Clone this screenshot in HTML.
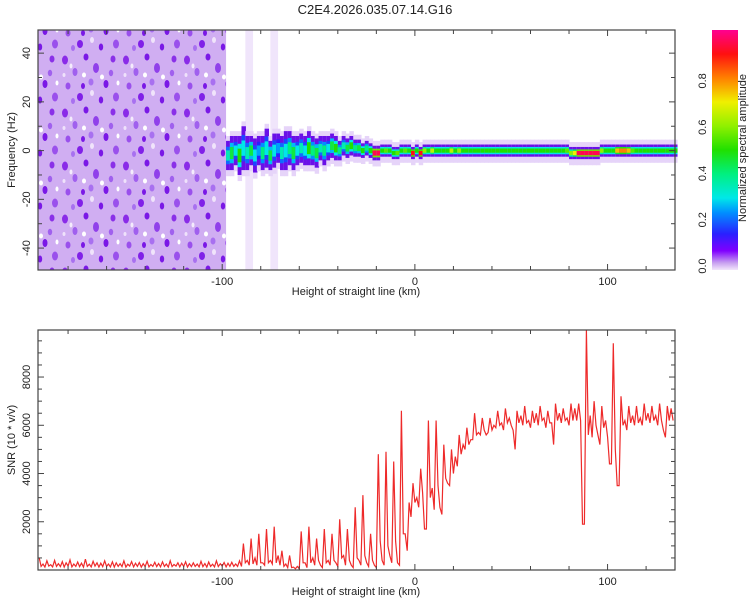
<!DOCTYPE html>
<html><head><meta charset="utf-8"><style>
body{margin:0;background:#fff;width:750px;height:600px;overflow:hidden}
svg{display:block;font-family:"Liberation Sans",sans-serif}
</style></head><body>
<svg id="c" width="750" height="600">
<defs>
<linearGradient id="cbg" x1="0" y1="1" x2="0" y2="0">
<stop offset="0" stop-color="#f2e6fb"/><stop offset="0.03" stop-color="#c8a0f0"/><stop offset="0.08" stop-color="#8000ff"/><stop offset="0.15" stop-color="#2a20ff"/><stop offset="0.24" stop-color="#0090ff"/><stop offset="0.3" stop-color="#00e8e8"/><stop offset="0.4" stop-color="#00f080"/><stop offset="0.5" stop-color="#20e000"/><stop offset="0.6" stop-color="#90f000"/><stop offset="0.7" stop-color="#f0f000"/><stop offset="0.8" stop-color="#ff8000"/><stop offset="0.9" stop-color="#ff1010"/><stop offset="1" stop-color="#ff0090"/>
</linearGradient>
<pattern id="spk" width="61" height="53" patternUnits="userSpaceOnUse">
<rect width="61" height="53" fill="#d0aef2"/>
<ellipse cx="4" cy="7" rx="3" ry="4.5" fill="#8a2be8"/><ellipse cx="14" cy="19" rx="2.5" ry="4" fill="#a060ee"/><ellipse cx="25" cy="4" rx="2.5" ry="3.5" fill="#7a18e6"/><ellipse cx="35" cy="15" rx="3" ry="5" fill="#9040ea"/><ellipse cx="45" cy="31" rx="2.5" ry="4" fill="#7a18e6"/><ellipse cx="7" cy="33" rx="2.5" ry="3.5" fill="#9a50ec"/><ellipse cx="19" cy="44" rx="3" ry="4" fill="#8020e8"/><ellipse cx="30" cy="29" rx="2.5" ry="3.5" fill="#a870f0"/><ellipse cx="52" cy="6" rx="2.5" ry="3.5" fill="#8a30e8"/><ellipse cx="55" cy="44" rx="3" ry="4.5" fill="#9a50ec"/><ellipse cx="40" cy="47" rx="2.2" ry="3.5" fill="#7a18e6"/><ellipse cx="50" cy="20" rx="2.2" ry="3.2" fill="#a060ee"/><ellipse cx="22" cy="33" rx="2" ry="3" fill="#7a18e6"/><ellipse cx="12" cy="48" rx="2" ry="3" fill="#a870f0"/>
<ellipse cx="23" cy="22" rx="2" ry="2.5" fill="#fff"/><ellipse cx="10" cy="13" rx="1.5" ry="2.5" fill="#f4ecfc"/><ellipse cx="41" cy="24" rx="2" ry="2.5" fill="#fff"/><ellipse cx="31" cy="40" rx="2" ry="3" fill="#f0e4fb"/><ellipse cx="57" cy="30" rx="1.5" ry="2.5" fill="#fff"/><ellipse cx="3" cy="22" rx="1.5" ry="2" fill="#efe2fb"/>
</pattern>
</defs>
</svg>
<script>
const NS='http://www.w3.org/2000/svg';
const svg=document.getElementById('c');
// ---- data ----
const snrStart=-195, snrStep=2;
const snrValues=[500,250,380,220,400,260,350,300,420,250,
330,280,450,240,360,300,280,380,250,340,
300,260,380,240,350,280,310,260,360,230,
320,270,340,250,380,230,300,280,340,260,
300,250,360,270,330,240,380,260,310,280,
320,250,380,1100,400,1300,500,1500,300,1700,
400,1800,600,800,250,600,120,150,1600,300,
1800,500,1300,200,1700,400,1500,300,2100,600,
1700,200,2600,400,3100,300,1500,200,4800,400,
4900,600,4500,300,6600,1500,2800,3600,3000,4200,
1700,6200,3400,6200,2600,5200,3600,5000,4700,5600,
5200,5900,5400,6500,5700,6300,5600,6300,6000,6600,
6100,6700,6300,5800,6600,6400,6800,6200,6600,6500,
6800,6300,6600,6100,6900,6500,6700,6300,6900,6700,
6900,1900,10000,6400,7000,5600,6800,6200,4400,9400,
3500,7200,6200,6800,6400,6800,6300,6900,6500,6800,
6400,6900,5800,6800,6700];
const snrMin=[150,120,160,130,150,140,120,160,130,150,
140,120,150,130,160,120,140,150,130,120,
150,140,120,160,130,150,120,140,130,150,
140,130,150,120,140,160,130,150,120,140,
150,130,140,120,150,130,140,160,130,150,
150,150,150,300,200,250,200,300,200,300,
250,300,200,150,100,100,50,50,300,100,
300,200,400,100,300,200,400,150,500,200,
400,100,500,200,600,150,400,100,1200,200,
1000,300,1200,200,1500,800,2200,2800,2600,3200,
1700,3000,2500,3500,2300,3800,3500,4000,4300,4800,
5000,5200,5400,5600,5600,5800,5700,5800,5900,6000,
5800,6100,6000,5000,6100,6000,6100,5900,6100,6000,
6200,5900,6100,5200,6200,6100,6200,6000,6200,6200,
6200,1900,5600,5500,6000,5200,5900,5500,4400,5000,
3500,6000,5800,6100,6000,6100,6000,6200,6100,6200,
6000,6200,5500,6200,6200];
const bandStart=-98, bandStep=2;
const bandAmp=[0.35,0.45,0.3,0.5,0.3,0.35,0.45,0.3,0.25,0.4,0.3,0.45,0.3,0.25,0.35,0.3,0.4,0.45,0.3,0.35,
0.3,0.5,0.4,0.45,0.35,0.4,0.3,0.45,0.5,0.4,0.35,0.45,0.5,0.4,0.45,0.5,0.4,0.5,0.95,0.95,
0.5,0.55,0.5,0.5,0.55,0.5,0.55,0.5,0.9,0.5,0.9,0.6,0.5,0.65,0.5,0.5,0.5,0.5,0.65,0.5,
0.6,0.5,0.5,0.5,0.5,0.5,0.5,0.5,0.5,0.5,0.5,0.5,0.5,0.5,0.5,0.5,0.5,0.5,0.5,0.5,
0.5,0.5,0.5,0.5,0.5,0.5,0.5,0.5,0.55,0.6,0.7,0.95,0.95,0.95,0.95,0.95,0.95,0.6,0.5,0.5,
0.5,0.75,0.8,0.8,0.75,0.55,0.5,0.5,0.5,0.5,0.5,0.5,0.5,0.5,0.5,0.5,0.5];
const bandHalf=[6,7,6,8,9,7,6,7,6,7,8,6,7,6,7,8,7,7,6,6,
6,7,6,6,5,6,5,5,5,4,4,4,4,3.5,3.5,3,3,3,3,3,
2.5,2.5,2.5,2.5,2.5,2.5,2.5,2.5,2.5,2.5,2.5,2.5,2.5,2.5,2.5,2.5,2.5,2.5,2.5,2.5,
2.5,2.5,2.5,2.5,2.5,2.5,2.5,2.5,2.5,2.5,2.5,2.5,2.5,2.5,2.5,2.5,2.5,2.5,2.5,2.5,
2.5,2.5,2.5,2.5,2.5,2.5,2.5,2.5,2.5,2.5,2.5,2.5,2.5,2.5,2.5,2.5,2.5,2.5,2.5,2.5,
2.5,2.5,2.5,2.5,2.5,2.5,2.5,2.5,2.5,2.5,2.5,2.5,2.5,2.5,2.5,2.5,2.5];
const bandCenter=[-2,-1,0,-2,1,-1,0,-2,0,-1,1,-2,0,1,-1,0,1,-1,0,1,
0,1,0,-1,1,0,1,2,1,0,2,1,2,1,1,0,1,0,-1,-1,
0,0,0,-1,-1,0,0,0,-1,0,-1,0,0,0,0,0,0,0,0,0,
0,0,0,0,0,0,0,0,0,0,0,0,0,0,0,0,0,0,0,0,
0,0,0,0,0,0,0,0,0,-1,-1,-1,-1,-1,-1,-1,-1,0,0,0,
0,0,0,0,0,0,0,0,0,0,0,0,0,0,0,0,0];
const xTicks=[-100,0,100];
const freqTicks=[-40,-20,0,20,40];
const snrTicks=[2000,4000,6000,8000];
const cbTicks=[0,0.2,0.4,0.6,0.8];
// ---- scales ----
const X0=38,X1=675,KMIN=-195.6,KMAX=135;
const xs=v=>X0+(v-KMIN)*(X1-X0)/(KMAX-KMIN);
const T0=30,T1=270,FMIN=-49,FMAX=49.5;
const fy=v=>T1-(v-FMIN)*(T1-T0)/(FMAX-FMIN);
const B0=330,B1=570,SMAX=9950;
const sy=v=>B1-v*(B1-B0)/SMAX;
const CB0=30,CB1=266;
const cy=v=>CB1-v*(CB1-CB0)/1.02;
function el(t,a,p){const e=document.createElementNS(NS,t);for(const k in a)e.setAttribute(k,a[k]);(p||svg).appendChild(e);return e;}
function txt(s,x,y,o){const e=el('text',Object.assign({x:x,y:y,'font-size':11,'text-anchor':'middle',fill:'#222'},o||{}));e.textContent=s;return e;}
const stops=[[0,[242,230,251]],[0.03,[200,160,240]],[0.08,[128,0,255]],[0.15,[42,32,255]],[0.24,[0,144,255]],[0.3,[0,232,232]],[0.4,[0,240,128]],[0.5,[32,224,0]],[0.6,[144,240,0]],[0.7,[240,240,0]],[0.8,[255,128,0]],[0.9,[255,16,16]],[1,[255,0,144]]];
function col(v){for(let i=1;i<stops.length;i++){if(v<=stops[i][0]){const a=stops[i-1],b=stops[i],t=(v-a[0])/(b[0]-a[0]);return 'rgb('+a[1].map((c,j)=>Math.round(c+(b[1][j]-c)*t)).join(',')+')';}}return 'rgb(255,0,144)';}

const title=txt('C2E4.2026.035.07.14.G16',375,14,{'font-size':13});



// ---- spectrogram ----
const spec=el('g',{});


const noise=el('rect',{x:X0,y:T0,width:xs(-98)-X0,height:T1-T0,fill:'url(#spk)'},spec);


[[-88,-84],[-75,-71]].forEach(s=>{const r=el('rect',{x:xs(s[0]),y:T0,width:xs(s[1])-xs(s[0]),height:T1-T0,fill:'#ecdffa',opacity:0.8},spec);

});
const w=xs(bandStep)-xs(0)+0.6;
bandAmp.forEach((a,i)=>{const k=bandStart+i*bandStep,x=xs(k),c=bandCenter[i],h=bandHalf[i];
 const g=el('g',{},spec);
 
 
 el('rect',{x:x,y:fy(c+h+2),width:w,height:fy(c-h-2.5)-fy(c+h+2),fill:'#e6d4f9'},g);
 el('rect',{x:x,y:fy(c+h),width:w,height:fy(c-h)-fy(c+h),fill:'#6a10e8'},g);
 el('rect',{x:x,y:fy(c+h*0.6),width:w,height:fy(c-h*0.6)-fy(c+h*0.6),fill:col(a*0.6)},g);
 el('rect',{x:x,y:fy(c+h*0.35),width:w,height:fy(c-h*0.35)-fy(c+h*0.35),fill:col(a)},g);
});
// ---- colorbar ----
const cb=el('rect',{x:712,y:CB0,width:26,height:CB1-CB0+4,fill:'url(#cbg)'});


cbTicks.forEach(v=>{const t=txt(v.toFixed(1),0,0,{transform:'translate(706,'+cy(v)+') rotate(-90)','font-size':11});

});
const cbt=txt('Normalized spectral amplitude',0,0,{transform:'translate(746,148) rotate(-90)','font-size':11});



// ---- SNR line (min/max per bin) ----
const ptsArr=[];
snrValues.forEach((v,i)=>{const k=snrStart+i*snrStep;
 ptsArr.push(xs(k).toFixed(1)+','+sy(Math.min(v,SMAX)).toFixed(1));
 ptsArr.push(xs(k+snrStep/2).toFixed(1)+','+sy(snrMin[i]).toFixed(1));});
const cp=el('clipPath',{id:'bc'});el('rect',{x:X0,y:B0,width:X1-X0,height:B1-B0},cp);
const line=el('polyline',{points:ptsArr.join(' '),fill:'none',stroke:'#ee2a2a','stroke-width':1.2,'clip-path':'url(#bc)'});



// ---- frames & axes ----
function frame(y0,y1,name){const r=el('rect',{x:X0,y:y0,width:X1-X0,height:y1-y0,fill:'none',stroke:'#444','stroke-width':1.2});


for(let k=-180;k<=120;k+=20){const x=xs(k),L=(k%100===0)?6:4;el('line',{x1:x,x2:x,y1:y1,y2:y1-L,stroke:'#444'});el('line',{x1:x,x2:x,y1:y0,y2:y0+L,stroke:'#444'});}
xTicks.forEach(k=>{const t=txt(String(k),xs(k),y1+15);

});
const xt=txt('Height of straight line (km)',356,y1+25,{'font-size':11});

}
frame(T0,T1,'spectrogram-frame');frame(B0,B1,'snr-frame');
for(let f=-40;f<=40;f+=10){const y=fy(f),L=(f%20===0)?6:4;el('line',{x1:X0,x2:X0+L,y1:y,y2:y,stroke:'#444'});el('line',{x1:X1,x2:X1-L,y1:y,y2:y,stroke:'#444'});}
freqTicks.forEach(f=>{const t=txt(String(f),0,0,{transform:'translate(30,'+fy(f)+') rotate(-90)'});

});
const fyT=txt('Frequency (Hz)',0,0,{transform:'translate(15,150) rotate(-90)','font-size':11});


for(let s=500;s<=9500;s+=500){const y=sy(s),L=(s%2000===0)?6:4;el('line',{x1:X0,x2:X0+L,y1:y,y2:y,stroke:'#444'});el('line',{x1:X1,x2:X1-L,y1:y,y2:y,stroke:'#444'});}
snrTicks.forEach(s=>{const t=txt(String(s),0,0,{transform:'translate(30,'+sy(s)+') rotate(-90)'});

});
const syT=txt('SNR (10 * v/v)',0,0,{transform:'translate(15,440) rotate(-90)','font-size':11});


</script>
</body></html>
